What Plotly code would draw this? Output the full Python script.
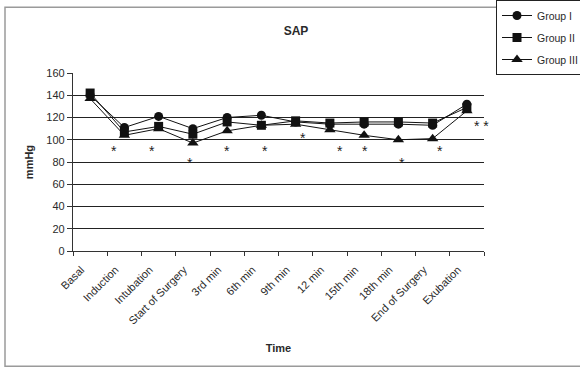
import plotly.graph_objects as go

categories = ["Basal", "Induction", "Intubation", "Start of Surgery", "3rd min", "6th min",
              "9th min", "12 min", "15th min", "18th min", "End of Surgery", "Exubation"]
group1 = [140, 111, 121, 110, 120, 122, 116, 114, 114, 114, 113, 132]
group2 = [142, 107, 112, 105, 116, 113, 117, 115, 116, 116, 115, 129]
group3 = [137, 104, 110, 97, 108, 113, 114, 109, 104, 100, 101, 126]
y_ticks = [0, 20, 40, 60, 80, 100, 120, 140, 160]
grid_vals = [20, 40, 60, 80, 100, 120, 140]
# significance marks (category position, value, text)
star_x = [0.71, 1.82, 2.93, 4.01, 5.11, 6.21, 7.29, 8.02, 9.11, 10.21, 11.43]
star_y = [92.5, 92.5, 81.5, 92.5, 92.5, 104, 92.5, 92.5, 81.5, 92.5, 115]
star_text = ["*", "*", "*", "*", "*", "*", "*", "*", "*", "*", "* *"]

FONT = "Liberation Sans, Arial, sans-serif"
TXT = "#2a2a2a"
xs = list(range(len(categories)))

fig = go.Figure()
series = [("Group I", group1, "circle"), ("Group II", group2, "square"), ("Group III", group3, "triangle-up")]
for name, vals, sym in series:
    fig.add_trace(go.Scatter(
        x=xs, y=vals, name=name, mode="lines+markers", legendgroup=name,
        line=dict(color="#111111", width=1),
        marker=dict(symbol=sym, size=9 if sym != "triangle-up" else 10, color="#111111"),
    ))

annotations = [
    dict(x=sx, y=sy, xref="x", yref="y", text=t, showarrow=False,
         xanchor="center", yanchor="middle", yshift=-3,
         font=dict(family=FONT, size=14, color="#222222"))
    for sx, sy, t in zip(star_x, star_y, star_text)
]

fig.update_layout(
    template="none",
    width=580, height=368,
    margin=dict(l=73, r=96, t=73, b=117, autoexpand=False),
    paper_bgcolor="white", plot_bgcolor="white",
    font=dict(family=FONT, color=TXT, size=11),
    title=dict(text="<b>SAP</b>", x=296 / 580, xref="container", xanchor="center",
               y=1 - 31 / 368, yref="container", yanchor="middle",
               font=dict(family=FONT, size=12, color=TXT)),
    showlegend=True,
    legend=dict(xref="container", yref="container", x=496 / 580, xanchor="left",
                y=1.0, yanchor="top",
                bordercolor="#222222", borderwidth=1, bgcolor="white",
                font=dict(family=FONT, size=10.5, color=TXT),
                tracegroupgap=3, itemwidth=30),
    annotations=annotations,
    shapes=[dict(type="rect", xref="paper", yref="paper",
                 x0=-68 / 411, x1=1.3, y0=(250.7 - 366) / 178, y1=(250.7 - 7) / 178,
                 line=dict(color="#9a9a9a", width=1.5), layer="below")],
)

fig.update_xaxes(
    range=[-0.5, 11.5], tickmode="array", tickvals=xs, ticktext=categories,
    tickangle=-45, ticks="", showgrid=False, zeroline=False, automargin=False,
    showline=True, linecolor="#333333", linewidth=1.2,
    tickfont=dict(family=FONT, size=11, color=TXT),
    ticklabelstandoff=7, ticklabelshift=-9,
    minor=dict(tickmode="linear", tick0=-0.5, dtick=1, ticks="outside", ticklen=4,
               tickcolor="#333333", showgrid=False),
    title=dict(text="<b>Time</b>", font=dict(family=FONT, size=11, color=TXT), standoff=18),
)
fig.update_yaxes(
    range=[0, 160], tickmode="array", tickvals=y_ticks, ticks="outside", ticklen=5,
    tickcolor="#333333", showgrid=False, zeroline=False, automargin=False,
    showline=True, linecolor="#333333", linewidth=1.2,
    tickfont=dict(family=FONT, size=11, color=TXT),
    minor=dict(tickmode="array", tickvals=grid_vals, ticks="", showgrid=True,
               gridcolor="#222222", gridwidth=1),
    title=dict(text="<b>mmHg</b>", font=dict(family=FONT, size=11, color=TXT), standoff=10),
)

fig.write_html("out.html", config={"displayModeBar": False},
               post_script="document.body.style.margin='0';document.body.style.overflow='hidden';")
